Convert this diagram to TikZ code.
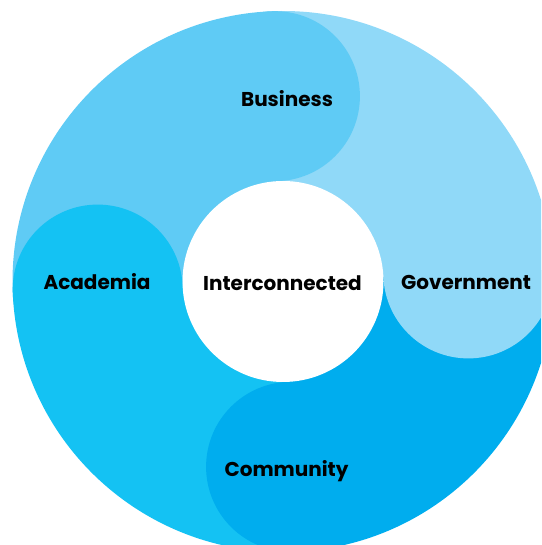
\documentclass[tikz,border=0pt]{standalone}
\usepackage{fontspec}
\setmainfont{Poppins}
\usetikzlibrary{positioning}

\definecolor{business}{HTML}{5FCBF5}
\definecolor{government}{HTML}{90D9F8}
\definecolor{community}{HTML}{00ADEE}
\definecolor{academia}{HTML}{14C2F3}

\begin{document}
\begin{tikzpicture}[x=1pt, y=1pt,
    every node/.style={font=\fontsize{20}{24}\selectfont\bfseries, text=black},
    word/.style={anchor=base, inner sep=0pt},
    hub/.style={circle, fill=white, minimum size=201pt, inner sep=0pt}]

  \useasboundingbox (0,0) rectangle (541,545);
  \clip (0,0) rectangle (541,545);
  \coordinate (c) at (283,263.5);

  % quarters of the ring
  \foreach \a/\col in {92.5/business, 2.5/government, -87.5/community, 182.5/academia}
    \fill[\col] (c) -- ++(\a:270.5) arc[start angle=\a, delta angle=90, radius=270.5] -- cycle;

  % rounded ends
  \foreach \a/\col in {92.5/business, 2.5/government, -87.5/community, 182.5/academia}
    \fill[\col] (c) ++(\a:185.5) circle[radius=85];

  % centre
  \node[hub] (mid) at (c) {};
  \node[word] (inter) at (282.5,254) {Interconnected};

  \node[word] (bus) at (287,438) {Business};
  \node[word] (gov) at (466,255) {Government};
  \node[word] (com) at (286.5,68) {Community};
  \node[word] (aca) at (97,255) {Academia};
\end{tikzpicture}
\end{document}
